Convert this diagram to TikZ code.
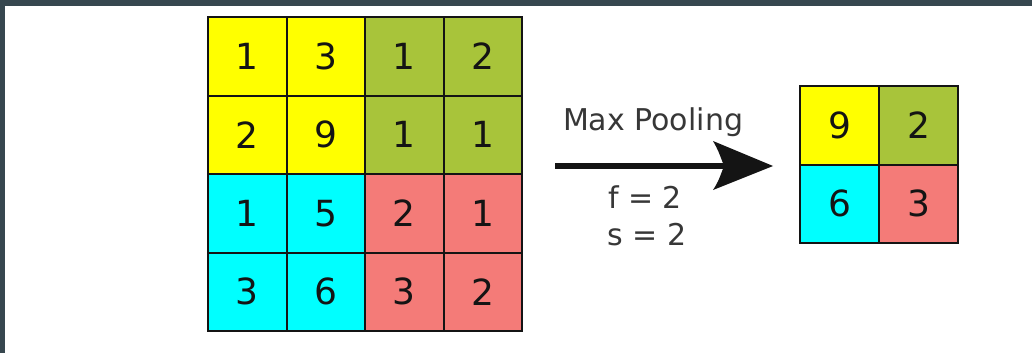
\documentclass[tikz,border=0pt]{standalone}
\usepackage{fontspec}
\setmainfont{DejaVu Sans}
\definecolor{frame}{HTML}{37474F}
\definecolor{olive}{HTML}{A8C43A}
\definecolor{salmon}{HTML}{F47B78}
\definecolor{aqua}{HTML}{00FFFF}
\definecolor{lemon}{HTML}{FFFF00}
\definecolor{ink}{HTML}{141414}
\begin{document}
\begin{tikzpicture}[x=1pt,y=-1pt,
  cell/.style={draw=ink, line width=2pt, minimum size=78.5pt, inner sep=0pt,
    text=ink, font=\fontsize{36}{40}\selectfont},
  yel/.style={cell, fill=lemon},
  olv/.style={cell, fill=olive},
  cyn/.style={cell, fill=aqua},
  slm/.style={cell, fill=salmon},
  lbl/.style={text=ink!85, anchor=base, inner sep=0pt, font=\fontsize{30}{34}\selectfont}]
\useasboundingbox (0,0) rectangle (1032,353);
\fill[white] (0,0) rectangle (1032,353);
\fill[frame] (0,0) rectangle (1032,6);
\fill[frame] (0,0) rectangle (5,353);
% input grid
\node[yel] (c11) at (247.25,56.25) {1};
\node[yel] (c12) at (325.75,56.25) {3};
\node[olv] (c13) at (404.25,56.25) {1};
\node[olv] (c14) at (482.75,56.25) {2};
\node[yel] (c21) at (247.25,134.75) {2};
\node[yel] (c22) at (325.75,134.75) {9};
\node[olv] (c23) at (404.25,134.75) {1};
\node[olv] (c24) at (482.75,134.75) {1};
\node[cyn] (c31) at (247.25,213.25) {1};
\node[cyn] (c32) at (325.75,213.25) {5};
\node[slm] (c33) at (404.25,213.25) {2};
\node[slm] (c34) at (482.75,213.25) {1};
\node[cyn] (c41) at (247.25,291.75) {3};
\node[cyn] (c42) at (325.75,291.75) {6};
\node[slm] (c43) at (404.25,291.75) {3};
\node[slm] (c44) at (482.75,291.75) {2};
% output grid
\node[yel] (o11) at (839.5,125.25) {9};
\node[olv] (o12) at (918.5,125.25) {2};
\node[cyn] (o21) at (839.5,203.75) {6};
\node[slm] (o22) at (918.5,203.75) {3};
% arrow and labels
\coordinate (a0) at (555,166);
\coordinate (an) at (724,166);
\coordinate (a1) at (773,166);
\draw[ink, line width=5.5pt] (a0) -- (an);
\fill[ink] (a1) -- (713,141) .. controls (718,150) .. (an) .. controls (718,182) .. (713,190) -- cycle;
\node[lbl] (mp) at (653,130) {Max Pooling};
\node[lbl] (f) at (645,208) {f = 2};
\node[lbl] (s) at (647,245) {s = 2};
\end{tikzpicture}
\end{document}
